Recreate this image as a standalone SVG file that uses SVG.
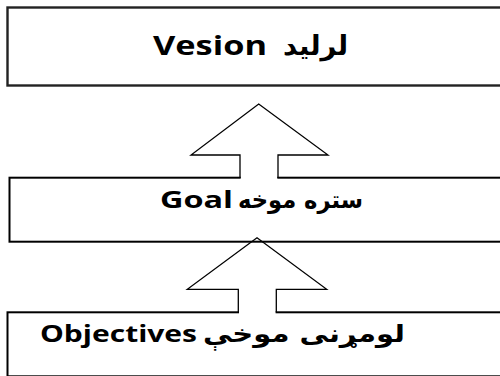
<svg xmlns="http://www.w3.org/2000/svg" width="500" height="376" viewBox="0 0 500 376">
<style>
.box{fill:none;stroke:#000;stroke-width:2}
.box1{fill:none;stroke:#222;stroke-width:2.4}
.arrow{fill:none;stroke:#000;stroke-width:1.3;stroke-linejoin:miter}
.mask{fill:#fff;stroke:none}
.lat{font-family:"Open Sans","DejaVu Sans",sans-serif;font-weight:bold;font-size:24px;fill:#000}
.ar{font-family:"DejaVu Sans","Noto Sans",sans-serif;font-weight:bold;font-size:24px;fill:#000}
.big{font-size:27px}
</style>
<rect width="500" height="376" fill="#fff"/>
<g id="vision">
<rect class="box1" x="7.5" y="7.5" width="510" height="78"/>
<text class="lat big" x="153" y="55" textLength="114" lengthAdjust="spacingAndGlyphs">Vesion</text>
<text class="ar big" x="283" y="55" textLength="65" lengthAdjust="spacingAndGlyphs">لرليد</text>
</g>
<g id="goal">
<rect class="box" x="9.5" y="177.7" width="510" height="64"/>
<text class="lat" x="160" y="208" textLength="73" lengthAdjust="spacingAndGlyphs">Goal</text>
<text class="ar" x="238" y="208" textLength="125" lengthAdjust="spacingAndGlyphs">ستره موخه</text>
</g>
<g id="objectives">
<rect class="box" x="7.5" y="312.3" width="510" height="64"/>
<text class="lat" x="40" y="342" textLength="157" lengthAdjust="spacingAndGlyphs">Objectives</text>
<text class="ar" x="203" y="342" textLength="202" lengthAdjust="spacingAndGlyphs">لومړنی موخې</text>
</g>
<g id="connectors">
<rect class="mask" x="240.7" y="174" width="36.6" height="6"/>
<path class="arrow" d="M240,178 V155 H191 L258.7,104 L328,155 H278 V178"/>
<rect class="mask" x="239" y="309" width="36.6" height="6"/>
<path class="arrow" d="M238.3,312.3 V289.3 H187.3 L257,237.7 L326.7,289.3 H276.3 V312.3"/>
</g>
</svg>
